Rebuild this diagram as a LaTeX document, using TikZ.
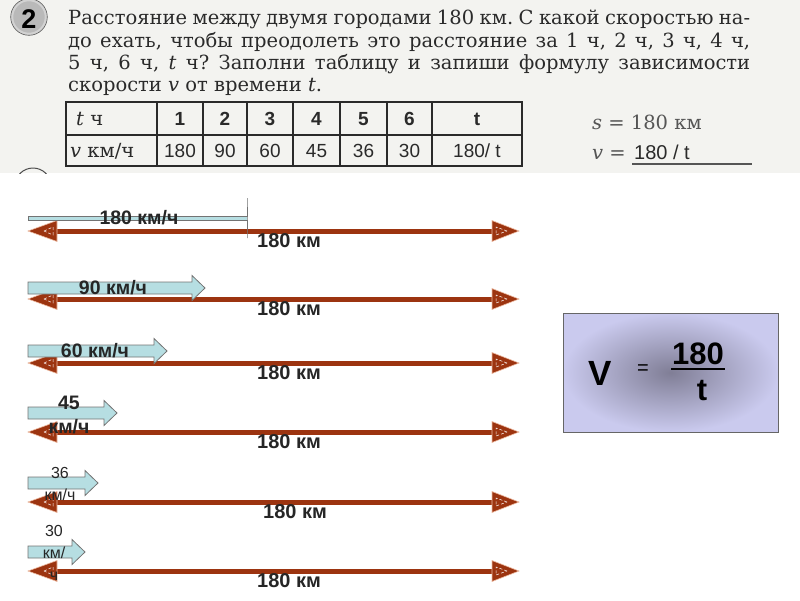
\documentclass[tikz,border=0pt]{standalone}
\usepackage{fontspec}
\setmainfont{DejaVu Serif}
\setsansfont{Liberation Sans}
\usetikzlibrary{positioning}
\definecolor{scanbg}{RGB}{243,243,240}
\definecolor{inkgray}{RGB}{42,42,42}
\definecolor{roadbrown}{RGB}{156,52,16}
\definecolor{roadhalo}{RGB}{240,190,165}
\definecolor{speedcyan}{RGB}{182,222,226}
\definecolor{boxouter}{RGB}{202,202,238}
\definecolor{boxinner}{RGB}{128,126,150}

\begin{document}
\begin{tikzpicture}[
    x=1pt, y=-1pt,
    textline/.style={font=\fontsize{19.5}{22}\selectfont\frenchspacing, text=inkgray, anchor=base west, inner sep=0pt},
    tablerule/.style={draw=inkgray, line width=1.1pt},
    headcell/.style={font=\sffamily\bfseries\fontsize{19}{20}\selectfont, text=inkgray, inner sep=0pt, anchor=base},
    valcell/.style={font=\sffamily\fontsize{19}{20}\selectfont, text=inkgray, inner sep=0pt, anchor=base},
    road/.style={fill=roadbrown, draw=roadhalo, line width=0.6pt},
    roadmark/.style={draw=white, densely dashed, line width=0.5pt},
    speedarrow/.style={fill=speedcyan, draw=black!55, line width=0.8pt},
    kmlabel/.style={font=\sffamily\bfseries\fontsize{20}{22}\selectfont, text=black!85, inner sep=0pt},
    speedlabel/.style={font=\sffamily\bfseries\fontsize{19.5}{24}\selectfont, text=black!85, inner sep=0pt, align=center},
    smalllabel/.style={font=\sffamily\fontsize{16}{22}\selectfont, text=black!85, inner sep=0pt, align=center},
    formula/.style={font=\sffamily\bfseries\fontsize{31}{32}\selectfont, text=black, inner sep=0pt},
]
\useasboundingbox (0,0) rectangle (800,600);

% --- scanned task from the textbook ---
\fill[scanbg] (0,0) rectangle (800,173);
\begin{scope}
    \clip (0,0) rectangle (800,173);
    \fill[gray!55, draw=gray!35, line width=2.5pt] (29,17) circle (17);
    \draw[gray!70!black, line width=0.6pt] (29,17) circle (18.3);
    \draw[gray!60!black, line width=1pt] (33,186) circle (18);
\end{scope}
\node[font=\sffamily\bfseries\fontsize{27}{28}\selectfont, inner sep=0pt] (badge) at (29,19) {2};

\node[textline] (line1) at (68,24) {\makebox[682pt][s]{Расстояние между двумя городами 180 км. С какой скоростью на-}};
\node[textline] (line2) at (68,47) {\makebox[682pt][s]{до ехать, чтобы преодолеть это расстояние за 1 ч, 2 ч, 3 ч, 4 ч,}};
\node[textline] (line3) at (68,69) {\makebox[682pt][s]{5 ч, 6 ч, \textit{t} ч? Заполни таблицу и запиши формулу зависимости}};
\node[textline] (line4) at (68,91) {скорости \textit{v} от времени \textit{t}.};

% --- table ---
\draw[tablerule] (66,102) rectangle (522,166);
\draw[tablerule] (66,135) -- (522,135);
\foreach \cx in {157,203,247,293,340,387,432}
    \draw[tablerule] (\cx,102) -- (\cx,166);
\node[textline] (thead) at (76,125.5) {\textit{t} ч};
\node[textline] (vhead) at (70,157.5) {\textit{v} км/ч};
\foreach \cx/\tval/\vval [count=\i] in {180/1/180, 225/2/90, 270/3/60, 316.5/4/45, 363.5/5/36, 409.5/6/30, 477/t/{180/ t}}{
    \node[headcell] (t\i) at (\cx,125.5) {\tval};
    \node[valcell] (v\i) at (\cx,157.5) {\vval};
}

% --- answer beside the table ---
\node[textline, text=inkgray!80] (sgiven) at (592,129) {\textit{s} = 180 км};
\node[textline, text=inkgray!80] (vgiven) at (592,159) {\textit{v} =};
\node[valcell, font=\sffamily\fontsize{20}{22}\selectfont, anchor=base west] (vanswer) at (634,159) {180 / t};
\draw[inkgray!80, line width=1.2pt] (632,164) -- (752,164);

% --- roads of 180 km and speed arrows ---
\foreach \yr/\yb/\hb/\tip/\bh/\hh/\kx [count=\i] in {
    231/218/247/247/2/20/289,
    299/288/192/205/6/12.5/289,
    363/351/154/167/6/12.5/289,
    432/413/104/117/6/12.5/289,
    502/483/85/98/6/12.5/295,
    571/552/72/85/6/12.5/289}{
    \fill[roadbrown] (55,\yr-2.5) rectangle (494,\yr+2.5);
    \draw[road] (28,\yr) -- (57,\yr-10.5) -- (57,\yr+10.5) -- cycle;
    \draw[road] (519,\yr) -- (492,\yr-10.5) -- (492,\yr+10.5) -- cycle;
    \draw[roadmark] (44,\yr) -- (53,\yr-4) -- (53,\yr+4) -- cycle;
    \draw[roadmark] (507,\yr) -- (496,\yr-4) -- (496,\yr+4) -- cycle;
    \draw[speedarrow] (28,\yb-\bh) -- (\hb,\yb-\bh) -- (\hb,\yb-\hh) -- (\tip,\yb)
        -- (\hb,\yb+\hh) -- (\hb,\yb+\bh) -- (28,\yb+\bh) -- cycle;
    \node[kmlabel] (km\i) at (\kx,\yr+10) {180 км};
}

\node[speedlabel] (speed1) at (139,218) {180 км/ч};
\node[speedlabel] (speed2) at (113,288) {90 км/ч};
\node[speedlabel] (speed3) at (95,351) {60 км/ч};
\node[speedlabel] (speed4) at (69,414.5) {45\\км/ч};
\node[smalllabel] (speed5) at (60,483.5) {36\\км/ч};
\node[smalllabel] (speed6) at (54,553) {30\\км/\\ч};

% --- formula box ---
\shade[inner color=boxinner, outer color=boxouter] (563,313) rectangle (778,432);
\draw[black!60, line width=0.8pt] (563,313) rectangle (778,432);
\node[formula, font=\sffamily\bfseries\fontsize{35}{36}\selectfont] (vsym) at (600,373) {V};
\node[font=\sffamily\fontsize{20}{22}\selectfont, inner sep=0pt] (eqsign) at (643,370) {=};
\node[formula] (numer) at (698,354) {180};
\node[formula] (denom) at (702,391) {t};
\draw[black, line width=2.4pt] (671,369) -- (725,369);

\end{tikzpicture}
\end{document}
